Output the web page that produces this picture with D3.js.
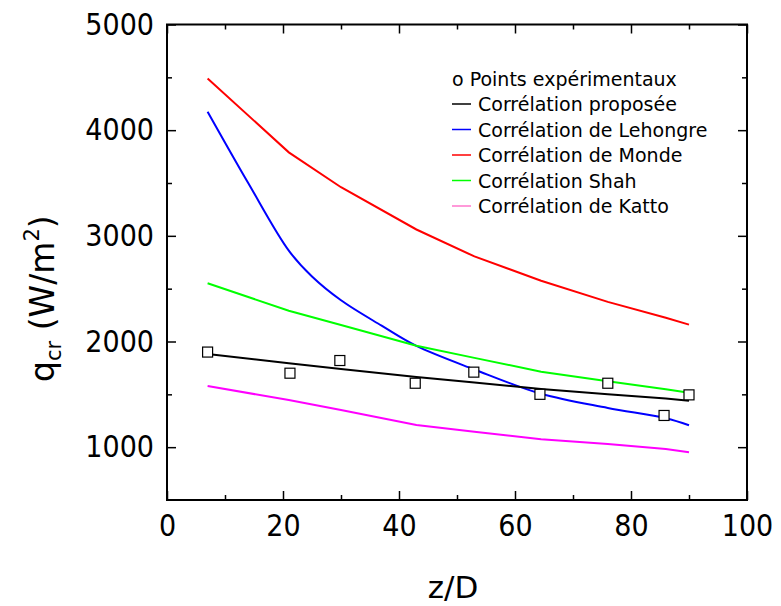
<!DOCTYPE html>
<html>
<head>
<meta charset="utf-8">
<script src="https://cdn.jsdelivr.net/npm/d3@7"></script>
<style>
  html, body { margin: 0; padding: 0; background: #fff; }
  svg { display: block; }
  text { font-family: "DejaVu Sans", sans-serif; fill: #000; }
  .tick text { font-family: "DejaVu Sans Condensed", "DejaVu Sans", sans-serif; font-stretch: condensed; }
</style>
</head>
<body>
<svg id="chart" width="781" height="606"></svg>
<script>
// Critical heat flux along the tube: measurements and correlations
const xTickValues = [0, 20, 40, 60, 80, 100];
const yTickValues = [1000, 2000, 3000, 4000, 5000];

// Experimental points
const zExp = [7, 21.2, 29.8, 42.8, 52.9, 64.3, 76, 85.7, 90];
const qExp = [1900, 1700, 1820, 1605, 1710, 1500, 1605, 1300, 1495];

// Correlations evaluated at the measurement stations
const zCorr = [7, 21, 30, 43, 53, 64.5, 76, 86, 90];
const qProposee = [1882, 1794, 1740, 1665, 1613, 1550, 1500, 1460, 1440];
const qMonde = [4490, 3790, 3460, 3060, 2805, 2575, 2375, 2225, 2160];
const qShah = [2551, 2291, 2156, 1960, 1845, 1714, 1624, 1549, 1515];
const qKatto = [1579, 1446, 1352, 1210, 1146, 1074, 1030, 983, 952];

// Lehongre correlation (smooth curve)
const zLehongre = [7, 14, 21, 25, 30, 37, 43, 53, 64.5, 76, 86, 90];
const qLehongre = [4175, 3500, 2860, 2615, 2390, 2150, 1958, 1735, 1505, 1371, 1273, 1207];

const legendLabels = [
  "Corrélation proposée",
  "Corrélation de Lehongre",
  "Corrélation de Monde",
  "Corrélation Shah",
  "Corrélation de Katto"
];

const svg = d3.select("#chart");
const plotLeft = 167, plotRight = 747, plotTop = 24.5, plotBottom = 500;

const x = d3.scaleLinear().domain([0, 100]).range([plotLeft, plotRight]);
const y = d3.scaleLinear().domain([500, 5000]).range([plotBottom, plotTop]);

// Curves
const series = [
  { z: zCorr, q: qProposee, color: "#000000", legendColor: "#000000", curve: d3.curveLinear },
  { z: zLehongre, q: qLehongre, color: "#0000ff", legendColor: "#0000ff", curve: d3.curveCatmullRom.alpha(0.5) },
  { z: zCorr, q: qMonde, color: "#ff0000", legendColor: "#ff0000", curve: d3.curveLinear },
  { z: zCorr, q: qShah, color: "#00ff00", legendColor: "#00ff00", curve: d3.curveLinear },
  { z: zCorr, q: qKatto, color: "#ff00ff", legendColor: "#ff77cc", curve: d3.curveLinear }
];

const plotOrder = [2, 1, 3, 4, 0];
plotOrder.forEach(i => {
  const s = series[i];
  const pts = s.z.map((z, k) => [z, s.q[k]]);
  svg.append("path")
    .attr("d", d3.line().x(d => x(d[0])).y(d => y(d[1])).curve(s.curve)(pts))
    .attr("fill", "none")
    .attr("stroke", s.color)
    .attr("stroke-width", 2);
});

// Measurement markers
const sq = 10;
svg.append("g").selectAll("rect")
  .data(zExp.map((z, k) => [z, qExp[k]]))
  .join("rect")
  .attr("x", d => x(d[0]) - sq / 2)
  .attr("y", d => y(d[1]) - sq / 2)
  .attr("width", sq)
  .attr("height", sq)
  .attr("fill", "#fff")
  .attr("stroke", "#000")
  .attr("stroke-width", 1.2);

// Axes with inward ticks on all four sides
const tickFont = "30px";
const minorX = d3.range(10, 100, 20);
const minorY = d3.range(1500, 5000, 1000);
const fmt = d3.format("d");

function styleAxis(g) {
  g.select(".domain").remove();
  g.selectAll(".tick line").attr("stroke", "#000").attr("stroke-width", 1.5);
}

svg.append("g").attr("transform", `translate(0,${plotBottom})`)
  .call(d3.axisBottom(x).tickValues(xTickValues).tickFormat(fmt).tickSize(-9).tickPadding(15))
  .call(styleAxis)
  .call(g => g.selectAll("text").style("font-size", tickFont).attr("fill", "#000"));
svg.append("g").attr("transform", `translate(0,${plotBottom})`)
  .call(d3.axisBottom(x).tickValues(minorX).tickSize(-5).tickFormat(""))
  .call(styleAxis);
svg.append("g").attr("transform", `translate(0,${plotTop})`)
  .call(d3.axisTop(x).tickValues(xTickValues).tickSize(-9).tickFormat(""))
  .call(styleAxis);
svg.append("g").attr("transform", `translate(0,${plotTop})`)
  .call(d3.axisTop(x).tickValues(minorX).tickSize(-5).tickFormat(""))
  .call(styleAxis);

svg.append("g").attr("transform", `translate(${plotLeft},0)`)
  .call(d3.axisLeft(y).tickValues(yTickValues).tickFormat(fmt).tickSize(-9).tickPadding(13))
  .call(styleAxis)
  .call(g => g.selectAll("text").style("font-size", tickFont).attr("fill", "#000"));
svg.append("g").attr("transform", `translate(${plotLeft},0)`)
  .call(d3.axisLeft(y).tickValues(minorY).tickSize(-5).tickFormat(""))
  .call(styleAxis);
svg.append("g").attr("transform", `translate(${plotRight},0)`)
  .call(d3.axisRight(y).tickValues(yTickValues).tickSize(-9).tickFormat(""))
  .call(styleAxis);
svg.append("g").attr("transform", `translate(${plotRight},0)`)
  .call(d3.axisRight(y).tickValues(minorY).tickSize(-5).tickFormat(""))
  .call(styleAxis);

// Frame
svg.append("rect")
  .attr("x", plotLeft).attr("y", plotTop)
  .attr("width", plotRight - plotLeft).attr("height", plotBottom - plotTop)
  .attr("fill", "none").attr("stroke", "#000").attr("stroke-width", 2);

// Axis titles
svg.append("text")
  .attr("x", 453).attr("y", 598)
  .attr("text-anchor", "middle")
  .style("font-size", "31px")
  .text("z/D");

const yTitle = svg.append("text")
  .attr("transform", "translate(54,382) rotate(-90)")
  .style("font-size", "33px");
yTitle.append("tspan").text("q");
yTitle.append("tspan").attr("dy", 7).style("font-size", "21px").text("cr");
yTitle.append("tspan").attr("dy", -7).text(" (W/m");
yTitle.append("tspan").attr("dy", -15).style("font-size", "21px").text("2");
yTitle.append("tspan").attr("dy", 15).text(")");

// Legend
const lg = svg.append("g").style("font-size", "19px");
lg.append("text").attr("x", 452).attr("y", 86).text("o Points expérimentaux");
series.forEach((s, i) => {
  const base = 111 + i * 25.5;
  lg.append("line")
    .attr("x1", 452).attr("x2", 471)
    .attr("y1", base - 7).attr("y2", base - 7)
    .attr("stroke", s.legendColor).attr("stroke-width", 1.5);
  lg.append("text").attr("x", 478).attr("y", base).text(legendLabels[i]);
});
</script>
</body>
</html>
